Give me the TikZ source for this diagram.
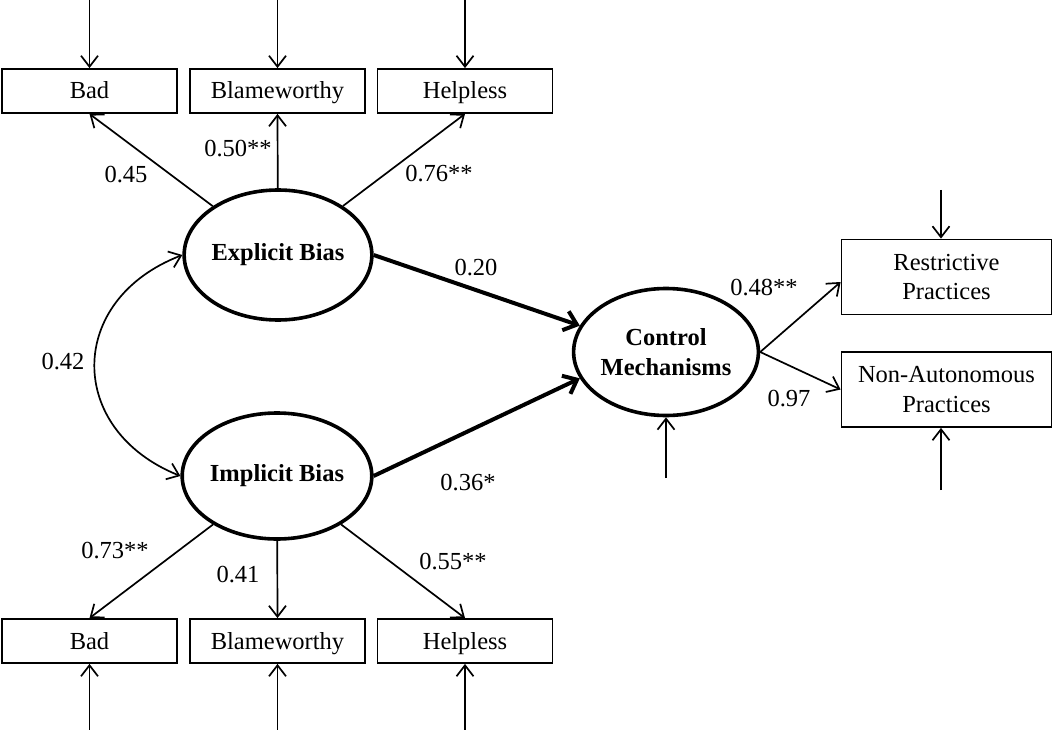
\documentclass[tikz,border=0pt]{standalone}
\usepackage{fontspec}
\setmainfont{Liberation Serif}
\usetikzlibrary{arrows.meta,shapes.geometric}
\begin{document}
\begin{tikzpicture}[x=1pt,y=-1pt,
  every node/.style={font=\fontsize{24.5}{29.5}\selectfont},
  obs/.style={draw, line width=1.8pt, minimum width=175pt, minimum height=44pt, inner sep=0pt, text height=19pt, text depth=3pt},
  obs2/.style={draw, line width=1.8pt, minimum width=210pt, minimum height=75pt, inner sep=0pt, align=center},
  lat/.style={draw, ellipse, line width=3.6pt, inner sep=0pt, align=center, font=\fontsize{24.5}{29.5}\selectfont\bfseries},
  thin/.style={line width=1.7pt, -{Straight Barb[length=11pt,width=17pt,line width=1.7pt]}},
  thick/.style={line width=4pt, -{Straight Barb[length=12pt,width=20pt,line width=4pt]}},
  lbl/.style={inner sep=0pt}
]
\useasboundingbox (0,0) rectangle (1054,730);
\fill[white] (0,0) rectangle (1054,730);
% observed indicators
\node[obs] (b1) at (89.5,91) {Bad};
\node[obs] (b2) at (277.5,91) {Blameworthy};
\node[obs] (b3) at (465,91) {Helpless};
\node[obs] (c1) at (89.5,641) {Bad};
\node[obs] (c2) at (277.5,641) {Blameworthy};
\node[obs] (c3) at (465,641) {Helpless};
\node[obs2] (rp) at (946.5,277) {Restrictive\\Practices};
\node[obs2] (np) at (946.5,389.5) {Non-Autonomous\\Practices};
% latent
\node[lat, minimum width=176pt, minimum height=130pt] (eb) at (278,255) {Explicit Bias};
\node[lat, minimum width=176pt, minimum height=126pt] (ib) at (277,476) {Implicit Bias};
\node[lat, minimum width=178pt, minimum height=127pt] (cm) at (666,352) {Control\\Mechanisms};
% error terms
\coordinate (e1) at (89.5,0);
\coordinate (e2) at (277.5,0);
\coordinate (e3) at (465,0);
\coordinate (f1) at (89.5,730);
\coordinate (f2) at (277.5,730);
\coordinate (f3) at (465,730);
\coordinate (er) at (941,190);
\coordinate (en) at (941,490);
\coordinate (ec) at (666,478);
\draw[thin] (e1) -- (b1.north);
\draw[thin] (e2) -- (b2.north);
\draw[thin] (e3) -- (b3.north);
\draw[thin] (f1) -- (c1.south);
\draw[thin] (f2) -- (c2.south);
\draw[thin] (f3) -- (c3.south);
\draw[thin] (er) -- (er |- rp.north);
\draw[thin] (en) -- (en |- np.south);
\draw[thin] (ec) -- (cm.south);
% loadings
\draw[thin] (eb) -- (b1.south);
\draw[thin] (eb) -- (b2.south);
\draw[thin] (eb) -- (b3.south);
\draw[thin] (ib) -- (c1.north);
\draw[thin] (ib) -- (c2.north);
\draw[thin] (ib) -- (c3.north);
\draw[thin] (cm.east) -- ([yshift=-5pt]rp.west);
\draw[thin] (cm.east) -- (np.west);
% structural paths
\draw[thick] (eb.east) -- (cm.163);
\draw[thick] (ib.east) -- (cm.197);
% covariance
\draw[line width=1.7pt, {Straight Barb[length=11pt,width=17pt,line width=1.7pt]}-{Straight Barb[length=11pt,width=17pt,line width=1.7pt]}]
  (eb.west) .. controls (66,300) and (66,430) .. (ib.west);
% labels
\node[lbl] (l1) at (126,175) {0.45};
\node[lbl] (l2) at (238,149) {0.50**};
\node[lbl] (l3) at (439,174) {0.76**};
\node[lbl] (l4) at (476,268) {0.20};
\node[lbl] (l5) at (468,483) {0.36*};
\node[lbl] (l6) at (63,362) {0.42};
\node[lbl] (l7) at (115,551) {0.73**};
\node[lbl] (l8) at (238,575) {0.41};
\node[lbl] (l9) at (453,562) {0.55**};
\node[lbl] (l10) at (764,288) {0.48**};
\node[lbl] (l11) at (789,399) {0.97};
\end{tikzpicture}
\end{document}
